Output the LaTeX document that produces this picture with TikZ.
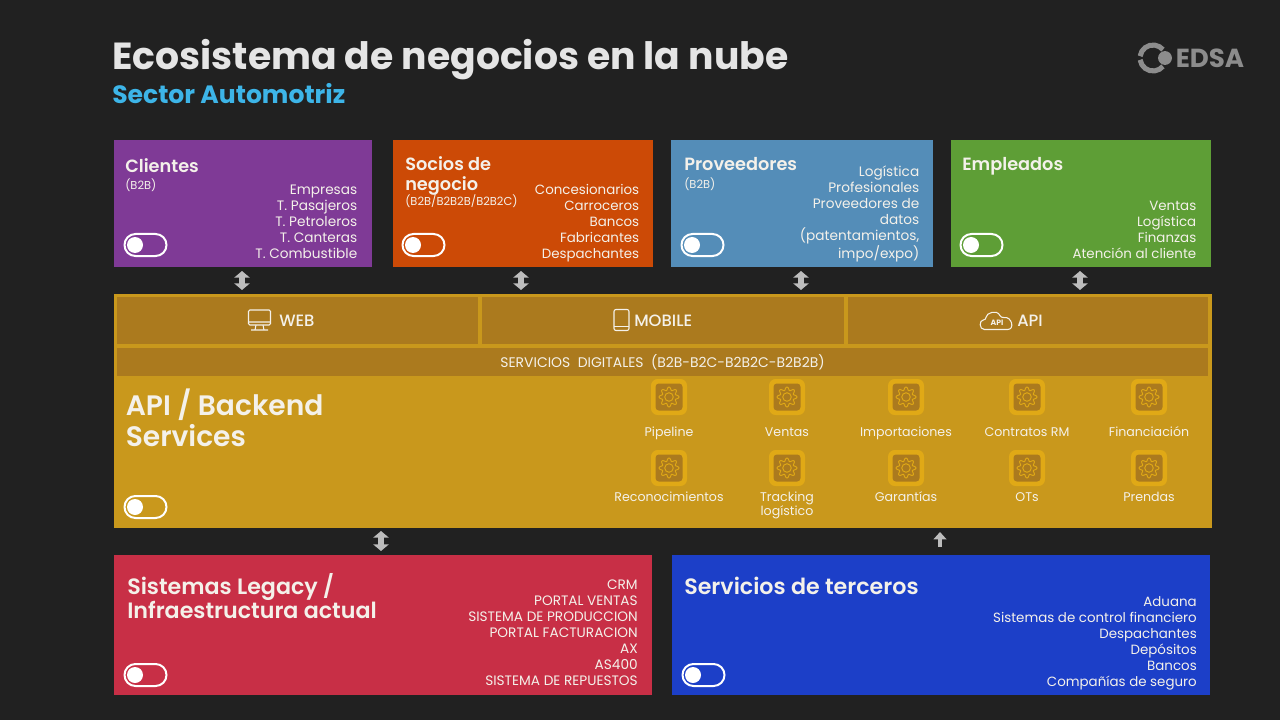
\documentclass[tikz,border=0pt]{standalone}
\usepackage{fontspec}
\setmainfont{Poppins}
\newfontfamily\medfont{Poppins Medium}
\newfontfamily\semifont{Poppins SemiBold}
\usepackage{xcolor}
\usepackage{tikz}
\usetikzlibrary{calc}
\usetikzlibrary{arrows.meta}
\definecolor{FondoOscuro}{HTML}{212121}
\definecolor{GrisLogo}{HTML}{8C8C8C}
\definecolor{GrisFlecha}{HTML}{BDBDBD}
\definecolor{CelesteSub}{HTML}{3DB5E8}
\definecolor{MoradoCli}{HTML}{7F3A96}
\definecolor{NaranjaSoc}{HTML}{CC4A06}
\definecolor{AzulProv}{HTML}{548DB8}
\definecolor{VerdeEmp}{HTML}{5E9E36}
\definecolor{OroBanda}{HTML}{C9981C}
\definecolor{OroOscuro}{HTML}{AB7A1E}
\definecolor{OroClaro}{HTML}{E0A916}
\definecolor{RojoLeg}{HTML}{C82F46}
\definecolor{AzulTer}{HTML}{1C3FC8}
\definecolor{Texto}{HTML}{F4F1EA}
\tikzset{
  panel/.style n args={3}{fill=#1, minimum width=#2*.75pt, minimum height=#3*.75pt,
    anchor=north west, inner sep=0pt, outer sep=0pt},
  boxtitle/.style={anchor=west, inner sep=0pt, text=Texto, align=left,
    font=\semifont\fontsize{13.3}{15}\selectfont},
  bigtitle/.style={anchor=west, inner sep=0pt, text=Texto, align=left,
    font=\semifont\fontsize{16.65}{18}\selectfont},
  boxnote/.style={anchor=west, inner sep=0pt, text=Texto,
    font=\fontsize{8.6}{10}\selectfont},
  boxlist/.style={anchor=south east, inner sep=0pt, text depth=0pt, text=Texto, align=right,
    font=\fontsize{10.05}{12}\selectfont},
  widelist/.style={boxlist, font=\fontsize{10.25}{12}\selectfont},
  channel/.style={anchor=west, inner sep=0pt, text=Texto,
    font=\medfont\fontsize{12.3}{14}\selectfont},
  svclabel/.style={anchor=south, inner sep=0pt, text depth=0pt, text=Texto, align=center,
    font=\fontsize{9.45}{10.8}\selectfont},
  link/.style={GrisFlecha, line width=4pt},
  both/.style={link, {Triangle[width=11.5pt,length=5pt]}-{Triangle[width=11.5pt,length=5pt]}},
  uponly/.style={link, line width=2.6pt, -{Triangle[width=9.5pt,length=5.5pt]}},
  toggle/.pic={
    \draw[white, line width=1.5pt, rounded corners=8.2pt] (-21,-11) rectangle (21,11);
    \fill[white] (-10.5,0) circle (6pt);
  },
  gearicon/.pic={
    \fill[OroClaro, rounded corners=5pt] (-18,-18) rectangle (18,18);
    \fill[OroOscuro, rounded corners=2.5pt] (-13.5,-13.5) rectangle (13.5,13.5);
    \draw[OroClaro, line width=.7pt] plot[domain=0:360, samples=97, smooth]
      ({(8.4+1.6*cos(8*\x))*cos(\x)}, {(8.4+1.6*cos(8*\x))*sin(\x)}) -- cycle;
    \draw[OroClaro, line width=.7pt] (0,0) circle (3.2pt);
  }
}
\begin{document}
\begin{tikzpicture}[x=.75pt, y=-.75pt]
  % page
  \fill[FondoOscuro] (0,0) rectangle (1280,720);
  \useasboundingbox (0,0) rectangle (1280,720);

  % heading
  \node[anchor=west, inner sep=0pt, text=white!90!black, font=\bfseries\fontsize{28.3}{30}\selectfont]
    (title) at (112,60) {Ecosistema de negocios en la nube};
  \node[anchor=west, inner sep=0pt, text=CelesteSub, font=\bfseries\fontsize{18.8}{20}\selectfont]
    (subtitle) at (112,94) {Sector Automotriz};

  % logo
  \coordinate (ring) at (1153,58);
  \draw[GrisLogo, line width=3.8pt] ($(ring)+(172:13)$) arc (172:40:13);
  \draw[GrisLogo, line width=3.8pt] ($(ring)+(188:13)$) arc (188:320:13);
  \fill[GrisLogo] (1165,58) circle (5.2pt);
  \node[anchor=west, inner sep=0pt, text=GrisLogo, font=\bfseries\fontsize{19.6}{22}\selectfont]
    (edsa) at (1175.5,58) {EDSA};

  % upper panels
  \node[panel={MoradoCli}{258}{127}] (clientes) at (114,140) {};
  \node[panel={NaranjaSoc}{260}{127}] (socios) at (393,140) {};
  \node[panel={AzulProv}{262}{127}] (proveedores) at (671,140) {};
  \node[panel={VerdeEmp}{260}{127}] (empleados) at (951,140) {};

  \node[boxtitle] (tclientes) at (125,166) {Clientes};
  \node[boxnote] (nclientes) at (125,185) {(B2B)};
  \node[widelist] (lclientes) at (357.5,259) {Empresas\\T. Pasajeros\\T. Petroleros\\T. Canteras\\T. Combustible};
  \node[boxtitle] (tsocios) at (405,176) {Socios de\\[-.6pt]negocio};
  \node[boxnote] (nsocios) at (405,201) {(B2B/B2B2B/B2B2C)};
  \node[boxlist] (lsocios) at (639.5,259) {Concesionarios\\Carroceros\\Bancos\\Fabricantes\\Despachantes};
  \node[boxtitle] (tproveedores) at (684,164) {Proveedores};
  \node[boxnote] (nproveedores) at (684,184) {(B2B)};
  \node[widelist] (lproveedores) at (919.5,259) {Logística\\Profesionales\\Proveedores de\\datos\\(patentamientos,\\impo/expo)};
  \node[boxtitle] (templeados) at (962,166) {Empleados};
  \node[boxlist] (lempleados) at (1196.5,259) {Ventas\\Logística\\Finanzas\\Atención al cliente};

  % middle band
  \node[panel={OroBanda}{1098}{234}] (backend) at (114,294) {};
  \node[panel={OroOscuro}{361}{47}] (web) at (117,297) {};
  \node[panel={OroOscuro}{362}{47}] (mobile) at (482,297) {};
  \node[panel={OroOscuro}{360}{47}] (api) at (848,297) {};
  \node[panel={OroOscuro}{1091}{28}] (servicios) at (117,348) {};

  % channel icons
  \draw[Texto, line width=.8pt, rounded corners=1pt] (248.5,310) rectangle (270.5,325);
  \draw[Texto, line width=.8pt] (248.5,322) -- (270.5,322) (256,325) -- (255,330) (263,325) -- (264,330) (251,330) -- (268,330);
  \draw[Texto, line width=.8pt, rounded corners=1.5pt] (614,309.5) rectangle (629,330.5);
  \draw[Texto, line width=.8pt] (614,326.5) -- (629,326.5);
  \draw[Texto, line width=.8pt, rounded corners=2pt] (987,329.5) .. controls (979,329.5) and (979,320) .. (986,320)
    .. controls (986,313) and (997,309) .. (1001,318) .. controls (1012,316) and (1015,329.5) .. (1005,329.5) -- cycle;
  \node[inner sep=0pt, text=Texto, font=\bfseries\fontsize{5.8}{6}\selectfont] (apimark) at (997,323) {API};
  \node[channel] (tweb) at (279,320.5) {WEB};
  \node[channel] (tmobile) at (634,320.5) {MOBILE};
  \node[channel] (tapi) at (1017,320.5) {API};
  \node[inner sep=0pt, text=Texto, font=\fontsize{10.45}{11}\selectfont] (tservicios) at (662.5,362)
    {SERVICIOS~~DIGITALES~~(B2B-B2C-B2B2C-B2B2B)};
  \node[bigtitle, font=\semifont\fontsize{21.1}{23.2}\selectfont] (tbackend) at (125.5,418) {API / Backend\\Services};

  % services
  \foreach \px/\py/\ptext/\ly/\pname in {
      669/397/Pipeline/437/pipeline, 787/397/Ventas/437/ventas, 906/397/Importaciones/437/importaciones,
      1027/397/Contratos RM/437/contratos, 1149/397/Financiación/437/financiacion,
      669/468/Reconocimientos/501.5/reconocimientos, 787/468/{Tracking\\logístico}/516/tracking,
      906/468/Garantías/501.5/garantias, 1027/468/OTs/501.5/ots, 1149/468/Prendas/501.5/prendas}{
    \pic at (\px,\py) {gearicon};
    \node[svclabel] (\pname) at (\px,\ly) {\ptext};
  }

  % lower panels
  \node[panel={RojoLeg}{538}{140}] (legacy) at (114,555) {};
  \node[panel={AzulTer}{538}{140}] (terceros) at (672,555) {};
  \node[bigtitle] (tlegacy) at (127,596.5) {Sistemas Legacy /\\Infraestructura actual};
  \node[widelist] (llegacy) at (638,686) {CRM\\PORTAL VENTAS\\SISTEMA DE PRODUCCION\\PORTAL FACTURACION\\AX\\AS400\\SISTEMA DE REPUESTOS};
  \node[bigtitle] (tterceros) at (684,586) {Servicios de terceros};
  \node[boxlist] (lterceros) at (1197,687) {Aduana\\Sistemas de control financiero\\Despachantes\\Depósitos\\Bancos\\Compañías de seguro};

  % toggles
  \foreach \px/\py in {145.5/245, 423.5/245, 702.5/245, 981.5/245, 145.5/507, 145.5/675, 703.5/675}
    \pic at (\px,\py) {toggle};

  % arrows
  \draw[both, shorten <=4*.75pt, shorten >=4*.75pt] (242,0 |- clientes.south) -- (242,0 |- backend.north);
  \draw[both, shorten <=4*.75pt, shorten >=4*.75pt] (521,0 |- socios.south) -- (521,0 |- backend.north);
  \draw[both, shorten <=4*.75pt, shorten >=4*.75pt] (801,0 |- proveedores.south) -- (801,0 |- backend.north);
  \draw[both, shorten <=4*.75pt, shorten >=4*.75pt] (1080,0 |- empleados.south) -- (1080,0 |- backend.north);
  \draw[both, shorten <=3*.75pt, shorten >=4*.75pt] (381,0 |- backend.south) -- (381,0 |- legacy.north);
  \draw[uponly, shorten <=8*.75pt, shorten >=4*.75pt] (940,0 |- terceros.north) -- (940,0 |- backend.south);
\end{tikzpicture}
\end{document}
